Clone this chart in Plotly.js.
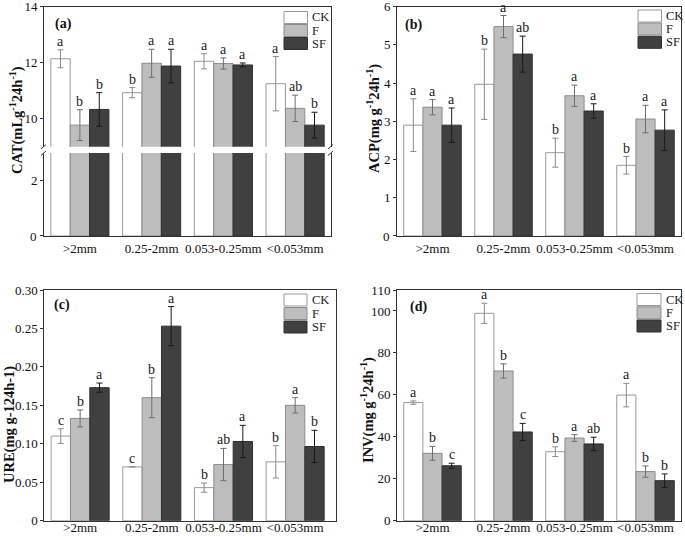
<!DOCTYPE html>
<html>
<head>
<meta charset="utf-8">
<script src="https://cdn.plot.ly/plotly-3.0.1.min.js"></script>
<style>
html,body{margin:0;padding:0;background:#fff;}
#chart{width:685px;height:537px;}
</style>
</head>
<body>
<div id="chart"></div>
<script>
// ---------------- DATA ----------------
const categories = ['>2mm', '0.25-2mm', '0.053-0.25mm', '<0.053mm'];
const treatments = ['CK', 'F', 'SF'];

// (a) CAT
const CAT_CK = [12.14, 10.93, 12.05, 11.25];
const CAT_CK_err = [0.32, 0.18, 0.27, 0.97];
const CAT_F = [9.77, 11.98, 11.97, 10.37];
const CAT_F_err = [0.55, 0.5, 0.2, 0.47];
const CAT_SF = [10.33, 11.88, 11.92, 9.77];
const CAT_SF_err = [0.6, 0.6, 0.07, 0.46];
const CAT_letters_CK = ['a', 'b', 'a', 'a'];
const CAT_letters_F = ['b', 'a', 'a', 'ab'];
const CAT_letters_SF = ['b', 'a', 'a', 'b'];

// (b) ACP
const ACP_CK = [2.9, 3.97, 2.18, 1.85];
const ACP_CK_err = [0.69, 0.92, 0.38, 0.23];
const ACP_F = [3.37, 5.48, 3.67, 3.06];
const ACP_F_err = [0.2, 0.29, 0.28, 0.36];
const ACP_SF = [2.9, 4.76, 3.27, 2.77];
const ACP_SF_err = [0.45, 0.47, 0.19, 0.53];
const ACP_letters_CK = ['a', 'b', 'b', 'b'];
const ACP_letters_F = ['a', 'a', 'a', 'a'];
const ACP_letters_SF = ['a', 'ab', 'a', 'a'];

// (c) URE
const URE_CK = [0.110, 0.070, 0.043, 0.0765];
const URE_CK_err = [0.0095, 0, 0.006, 0.021];
const URE_F = [0.133, 0.160, 0.073, 0.150];
const URE_F_err = [0.011, 0.026, 0.021, 0.010];
const URE_SF = [0.173, 0.253, 0.103, 0.0965];
const URE_SF_err = [0.006, 0.0255, 0.021, 0.021];
const URE_letters_CK = ['c', 'c', 'b', 'b'];
const URE_letters_F = ['b', 'b', 'ab', 'a'];
const URE_letters_SF = ['a', 'a', 'a', 'b'];

// (d) INV
const INV_CK = [56.3, 98.9, 32.9, 59.9];
const INV_CK_err = [0.8, 4.8, 2.3, 5.6];
const INV_F = [32.1, 71.4, 39.4, 23.4];
const INV_F_err = [3.3, 3.4, 1.6, 2.7];
const INV_SF = [26.2, 42.3, 36.6, 19.1];
const INV_SF_err = [1.2, 4.1, 3.2, 3.2];
const INV_letters_CK = ['a', 'a', 'b', 'a'];
const INV_letters_F = ['b', 'b', 'a', 'b'];
const INV_letters_SF = ['c', 'c', 'ab', 'b'];

// tick labels
const CAT_ticks_low = [0, 2];
const CAT_ticks_high = [10, 12, 14];
const ACP_ticks = [0, 1, 2, 3, 4, 5, 6];
const URE_tickvals = [0, 0.05, 0.10, 0.15, 0.20, 0.25, 0.30];
const URE_ticktext = ['0', '0.05', '0.10', '0.15', '0.20', '0.25', '0.30'];
const INV_tickvals = [0, 20, 40, 60, 80, 100, 110];
const INV_ticktext = ['0', '20', '40', '60', '80', '100', '110'];

const titles = {
  a: 'CAT(mLg<sup>-1</sup>24h<sup>-1</sup>)',
  b: 'ACP(mg g<sup>-1</sup>24h<sup>-1</sup>)',
  c: 'URE(mg g-124h-1)',
  d: 'INV(mg g<sup>-1</sup>24h<sup>-1</sup>)'
};
const panelLabels = ['(a)', '(b)', '(c)', '(d)'];

// ---------------- STYLE ----------------
const W = 685, H = 537;
const FONT = 'Liberation Serif, Times New Roman, serif';
const PX = p => p / W;
const PY = p => 1 - p / H;
const fills = ['#ffffff', '#bdbdbd', '#404040'];
const lines = ['#9a9a9a', '#8c8c8c', '#303030'];
const errCols = ['#8a8a8a', '#6e6e6e', '#1a1a1a'];
const BARW = 0.27;
const offsets = [-BARW, 0, BARW];
const xIdx = categories.map((_, i) => i);

const traces = [];
const annotations = [];
const shapes = [];

function addPanel(series, errs, letters, xa, ya) {
  series.forEach((vals, t) => {
    traces.push({
      type: 'bar', x: xIdx, y: vals, name: treatments[t],
      xaxis: xa, yaxis: ya, showlegend: false, hoverinfo: 'skip',
      marker: {color: fills[t], line: {color: lines[t], width: 1}},
      error_y: {type: 'data', array: errs[t], visible: true, color: errCols[t], thickness: 1, width: 3}
    });
  });
  if (letters) {
    letters.forEach((lab, t) => {
      lab.forEach((s, i) => {
        annotations.push({
          xref: xa, yref: ya, x: i + offsets[t], y: series[t][i] + errs[t][i],
          text: s, showarrow: false, yanchor: 'bottom', xanchor: 'center', yshift: -1,
          font: {family: FONT, size: 14, color: '#222'}
        });
      });
    });
  }
}

// Panel a (broken axis)
const aSeries = [CAT_CK, CAT_F, CAT_SF];
const aErr = [CAT_CK_err, CAT_F_err, CAT_SF_err];
addPanel(aSeries, aErr, null, 'x', 'y');
addPanel(aSeries, aErr, [CAT_letters_CK, CAT_letters_F, CAT_letters_SF], 'x2', 'y2');
addPanel([ACP_CK, ACP_F, ACP_SF], [ACP_CK_err, ACP_F_err, ACP_SF_err],
  [ACP_letters_CK, ACP_letters_F, ACP_letters_SF], 'x3', 'y3');
addPanel([URE_CK, URE_F, URE_SF], [URE_CK_err, URE_F_err, URE_SF_err],
  [URE_letters_CK, URE_letters_F, URE_letters_SF], 'x4', 'y4');
addPanel([INV_CK, INV_F, INV_SF], [INV_CK_err, INV_F_err, INV_SF_err],
  [INV_letters_CK, INV_letters_F, INV_letters_SF], 'x5', 'y5');

const tickFont = {family: FONT, size: 13, color: '#111'};
function xAxis(d, anchor, range, extra) {
  return Object.assign({
    domain: d, anchor: anchor, range: range, tickmode: 'array', tickvals: xIdx, ticktext: categories,
    tickangle: 0, showline: true, linecolor: '#333', linewidth: 1, ticks: '', showgrid: false, zeroline: false,
    tickfont: tickFont, fixedrange: true, ticklabeloverflow: 'allow'
  }, extra || {});
}
const EPS = 1e-4;
function yAxis(d, anchor, range, tv, tt, extra) {
  const span = range[1] - range[0];
  return Object.assign({
    domain: d, anchor: anchor, range: [range[0] - span * EPS, range[1] + span * EPS],
    tickmode: 'array', tickvals: tv, ticktext: tt || tv.map(String),
    showline: true, mirror: true, linecolor: '#333', linewidth: 1, ticks: 'outside', ticklen: 3,
    tickcolor: '#333', showgrid: false, zeroline: false, tickfont: tickFont, fixedrange: true,
    automargin: false, ticklabeloverflow: 'allow'
  }, extra || {});
}

// pixel geometry of the panels
const aL = 44, aR = 331, bL = 397, bR = 681, cL = 44.3, cR = 336;
const topBottom = 236, topTop = 6.7, botBottom = 520.7, botTop = 290;
const aX = [PX(aL), PX(aR)];
const bX = [PX(bL), PX(bR)];
const cX = [PX(cL), PX(cR)];
const dX = [PX(bL), PX(bR)];
const topY = [PY(topBottom), PY(topTop)];
const botY = [PY(botBottom), PY(botTop)];

// the bottom "0" labels of the top row are written as text beside the axis
const CAT_low_text = CAT_ticks_low.map((v, i) => i === 0 ? '' : String(v));
const ACP_text = ACP_ticks.map((v, i) => i === 0 ? '' : String(v));
[[aL, CAT_ticks_low[0]], [bL, ACP_ticks[0]]].forEach(([axX, v]) => {
  annotations.push({xref: 'paper', yref: 'paper', x: PX(axX - 5.5), y: PY(topBottom), text: String(v),
    showarrow: false, xanchor: 'right', yanchor: 'middle', font: tickFont});
});

const layout = {
  width: W, height: H, autosize: false,
  margin: {l: 0, r: 0, t: 0, b: 0, pad: 0},
  paper_bgcolor: '#fff', plot_bgcolor: '#fff',
  barmode: 'group', bargap: 0.19, bargroupgap: 0,
  showlegend: false,
  font: {family: FONT},
  xaxis: xAxis(aX, 'y', [-0.5, 3.5]),
  yaxis: yAxis([PY(topBottom), PY(153)], 'x', [0, 3], CAT_ticks_low, CAT_low_text),
  xaxis2: xAxis(aX, 'y2', [-0.5, 3.5], {side: 'top', showticklabels: false}),
  yaxis2: yAxis([PY(146.7), PY(topTop)], 'x2', [9, 14], CAT_ticks_high),
  xaxis3: xAxis(bX, 'y3', [-0.5, 3.5], {mirror: true}),
  yaxis3: yAxis(topY, 'x3', [0, 6], ACP_ticks, ACP_text),
  xaxis4: xAxis(cX, 'y4', [-0.5, 3.57], {mirror: true, ticklabelstandoff: -5}),
  yaxis4: yAxis(botY, 'x4', [0, 0.30], URE_tickvals, URE_ticktext),
  xaxis5: xAxis(dX, 'y5', [-0.5, 3.5], {mirror: true, ticklabelstandoff: -5}),
  yaxis5: yAxis(botY, 'x5', [0, 110], INV_tickvals, INV_ticktext),
  annotations: annotations,
  shapes: shapes
};

// break marks for panel a
[aL, aR].forEach(x => {
  shapes.push({type: 'line', xref: 'paper', yref: 'paper', x0: PX(x - 3), y0: PY(149), x1: PX(x + 2), y1: PY(144.5), line: {color: '#333', width: 1}});
  shapes.push({type: 'line', xref: 'paper', yref: 'paper', x0: PX(x - 3), y0: PY(155.5), x1: PX(x + 2), y1: PY(151), line: {color: '#333', width: 1}});
});

// legends
const legendPos = [
  {x0: 284, x1: 307.5, tops: [11.5, 24.5, 37.5], tx: 310},
  {x0: 638, x1: 661.5, tops: [10, 23, 36.3], tx: 664},
  {x0: 284, x1: 307, tops: [294, 307.5, 321], tx: 310},
  {x0: 637, x1: 661, tops: [293.5, 306.8, 320], tx: 664}
];
legendPos.forEach(p => {
  treatments.forEach((name, t) => {
    const top = p.tops[t];
    shapes.push({type: 'rect', xref: 'paper', yref: 'paper', x0: PX(p.x0), x1: PX(p.x1), y0: PY(top + 12), y1: PY(top),
      fillcolor: fills[t], line: {color: lines[t], width: 1}});
    annotations.push({xref: 'paper', yref: 'paper', x: PX(p.tx), y: PY(top + 6), text: name, showarrow: false,
      xanchor: 'left', yanchor: 'middle', font: {family: FONT, size: 12.5, color: '#222'}});
  });
});

// panel labels
const labelPos = [[53, 24], [403, 25], [51.5, 305], [408, 306.5]];
panelLabels.forEach((s, i) => {
  annotations.push({xref: 'paper', yref: 'paper', x: PX(labelPos[i][0]), y: PY(labelPos[i][1]), text: '<b>' + s + '</b>',
    showarrow: false, xanchor: 'left', yanchor: 'middle', font: {family: FONT, size: 14, color: '#111'}});
});

// y titles
const titlePos = [['a', 17, 120], ['b', 373, 119], ['c', 9, 425], ['d', 367, 410]];
titlePos.forEach(([k, x, y]) => {
  annotations.push({xref: 'paper', yref: 'paper', x: PX(x), y: PY(y), text: '<b>' + titles[k] + '</b>', textangle: -90,
    showarrow: false, xanchor: 'center', yanchor: 'middle', font: {family: FONT, size: 14.5, color: '#111'}});
});

Plotly.newPlot('chart', traces, layout, {staticPlot: true, displayModeBar: false});
</script>
</body>
</html>
